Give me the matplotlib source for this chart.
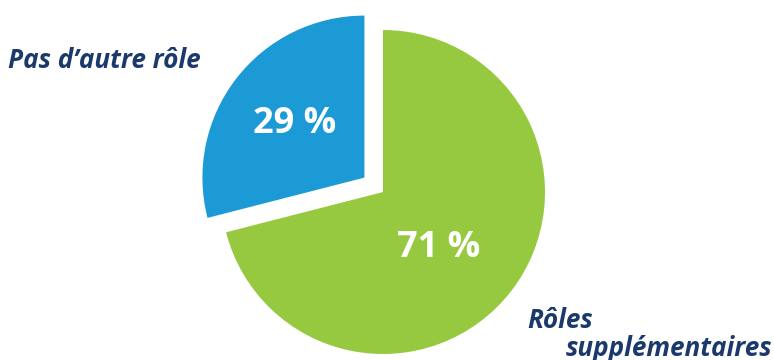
import matplotlib.pyplot as plt

# donnees
etiquettes = ["Rôles supplémentaires", "Pas d'autre rôle"]
valeurs = [71, 29]
couleurs = ["#97C940", "#1B9AD6"]
textes_pct = ["71 %", "29 %"]

bleu_nuit = "#1B3A6B"
police = "Open Sans"

fig = plt.figure(figsize=(7.74, 3.6), dpi=100)
ax = fig.add_axes([0, 0, 1, 1])

rayon = 162
# explode est en unites de donnees, pas en fraction du rayon
wedges, textes = ax.pie(valeurs, colors=couleurs, startangle=90, counterclock=False,
                        explode=[0, 0.145 * rayon], center=(383, 168), radius=rayon,
                        wedgeprops={"linewidth": 0})
ax.set_xlim(0, 774)
ax.set_ylim(0, 360)
ax.set_aspect("equal")
ax.axis("off")

# pourcentages dans les parts
ax.text(439, 112, textes_pct[0], color="white", fontsize=26, fontweight="bold",
        family=police, ha="center", va="center")
ax.text(295, 236, textes_pct[1], color="white", fontsize=26, fontweight="bold",
        family=police, ha="center", va="center")

# etiquettes exterieures
ax.text(8, 299, "Pas d’autre rôle", color=bleu_nuit, fontsize=18.8, fontweight="bold",
        fontstyle="italic", family=police, ha="left", va="center")
ax.text(527, 40, "Rôles", color=bleu_nuit, fontsize=18.8, fontweight="bold",
        fontstyle="italic", family=police, ha="left", va="center")
ax.text(566, 12, "supplémentaires", color=bleu_nuit, fontsize=18.8, fontweight="bold",
        fontstyle="italic", family=police, ha="left", va="center")

plt.savefig("out.png", dpi=100)
